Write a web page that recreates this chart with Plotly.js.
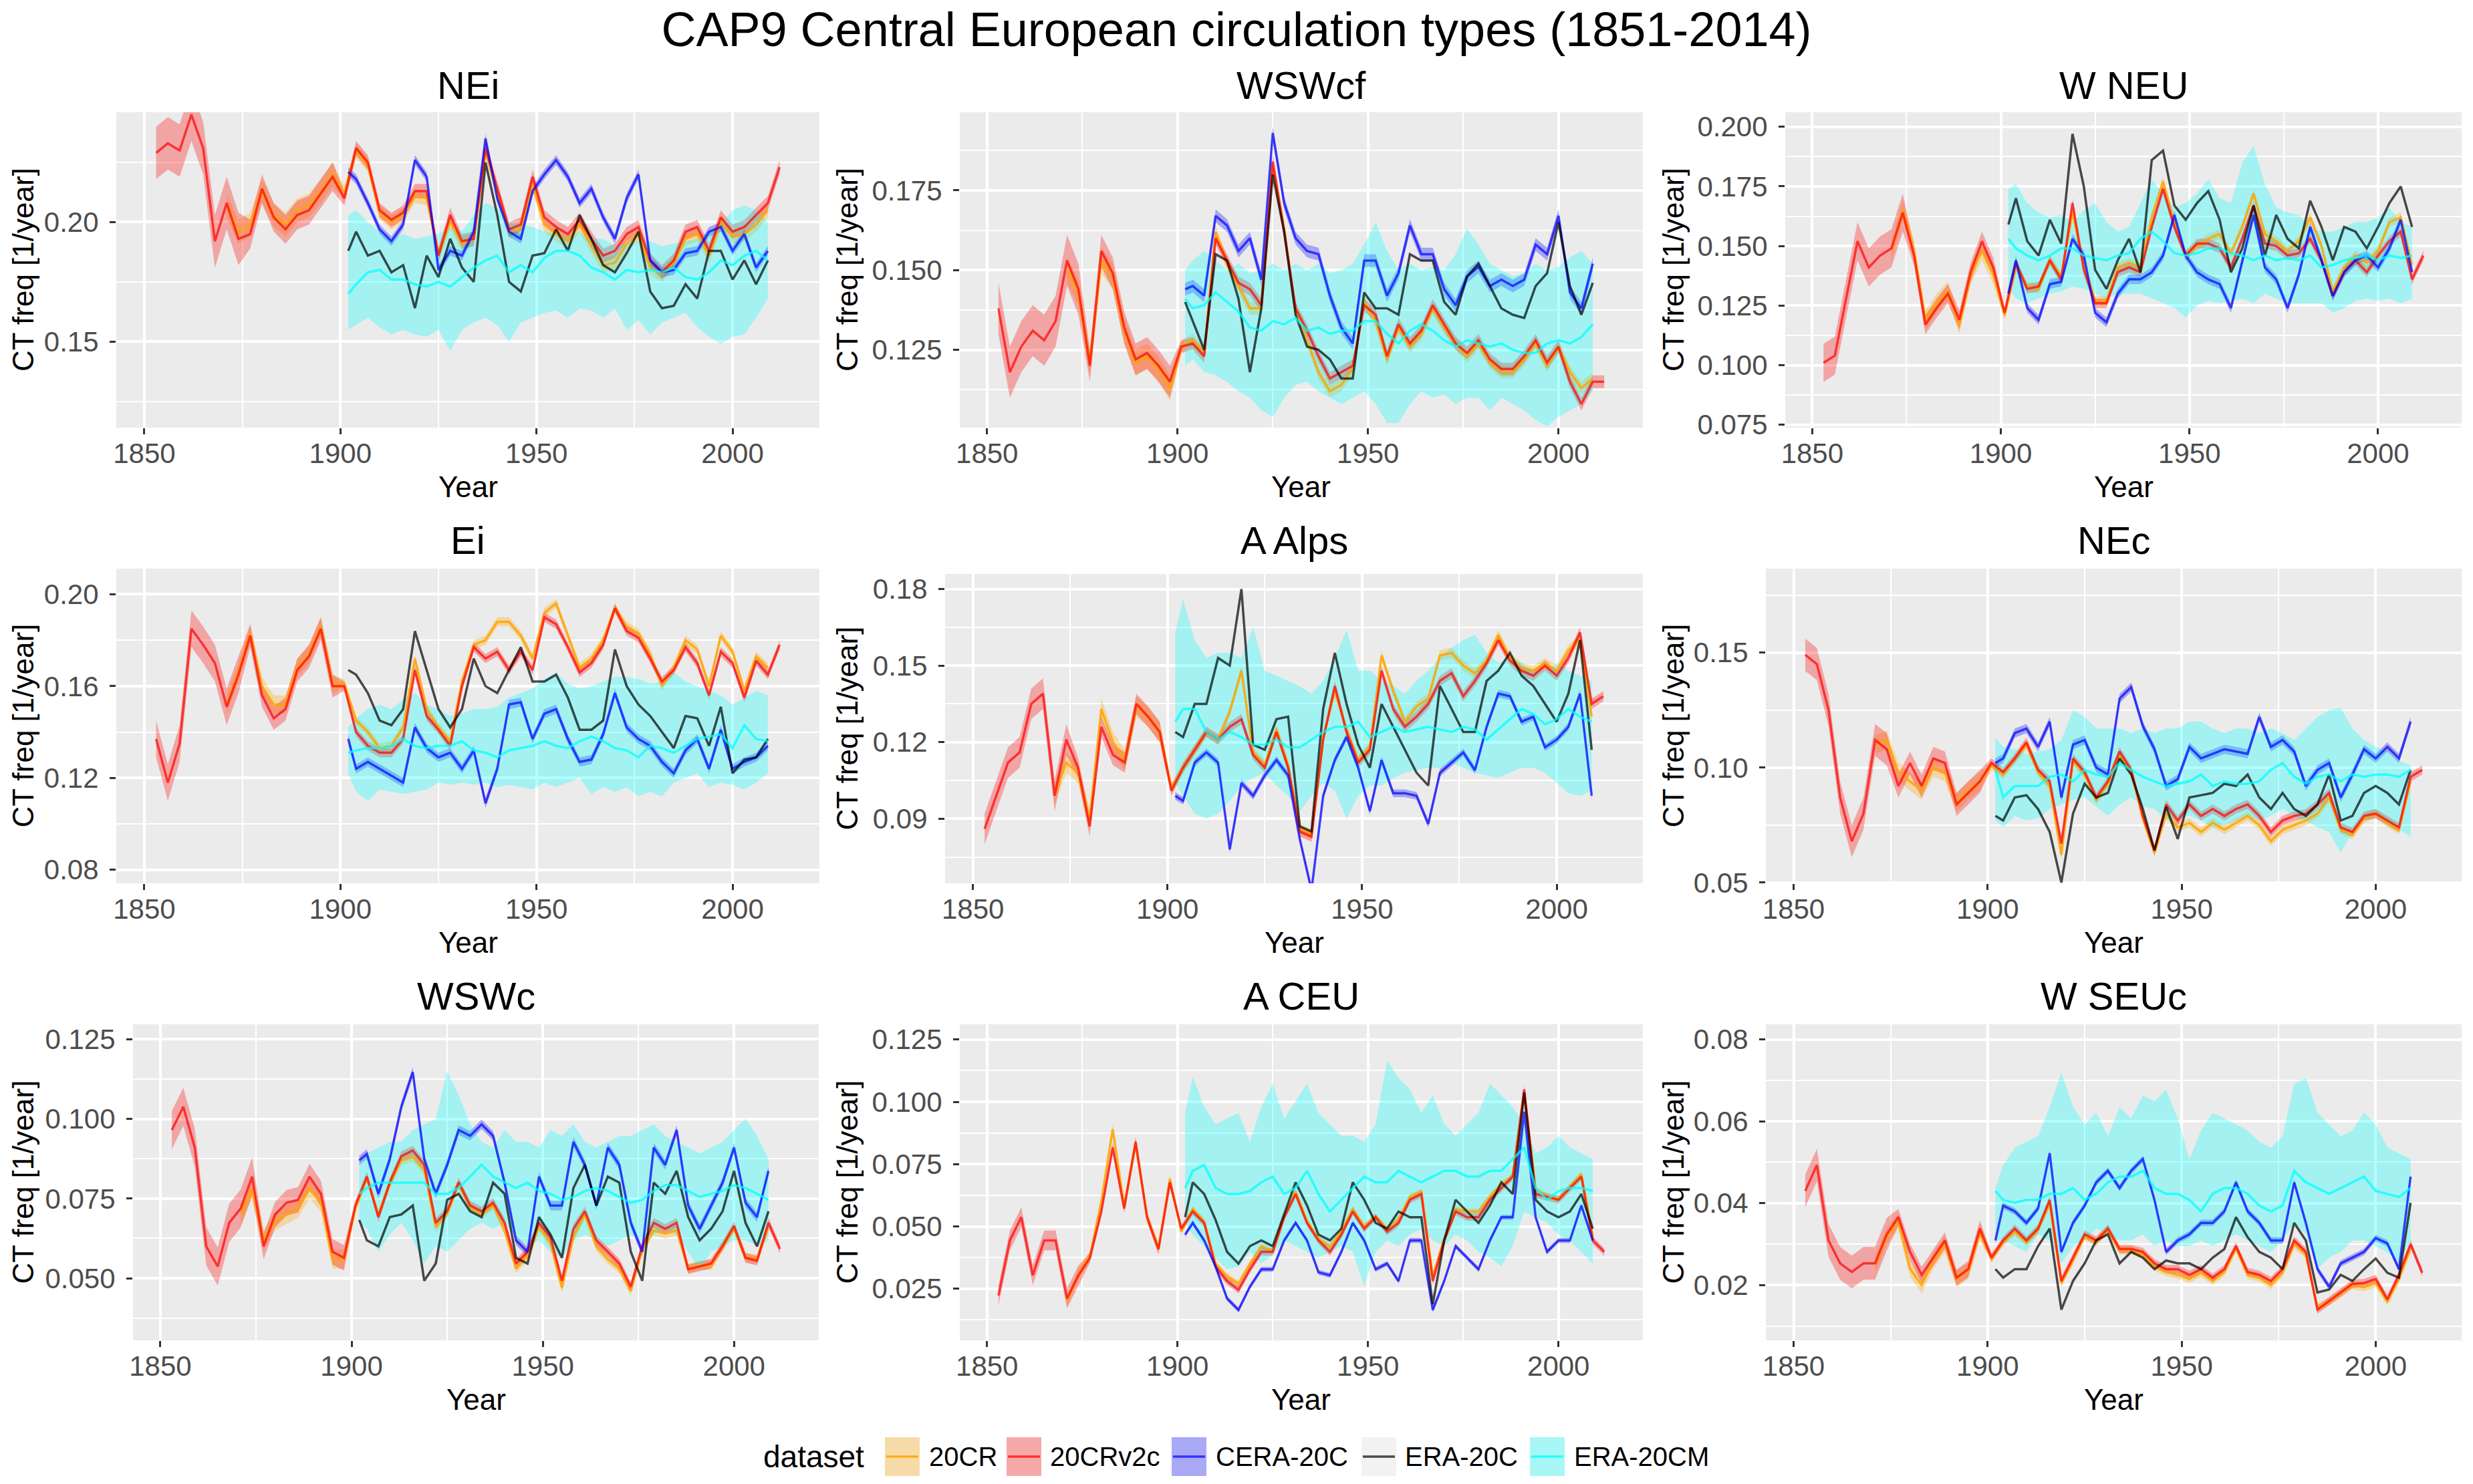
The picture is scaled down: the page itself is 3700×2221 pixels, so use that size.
<!DOCTYPE html>
<html>
<head>
<meta charset="utf-8">
<script src="https://cdn.plot.ly/plotly-3.0.1.min.js"></script>
<style>
html,body{margin:0;padding:0;background:#ffffff;}
#chart{width:3700px;height:2221px;}
</style>
</head>
<body>
<div id="chart"></div>
<script>
function seq(a, b, s) { const r = []; for (let v = a; v <= b + 1e-9; v += s) r.push(v); return r; }

// ---------- year grids ----------
const yearsV2c = seq(1853, 2012, 3);                 // 20CRv2c
const years20CR = seq(1871, 2009, 3);                // 20CR
const years20C = [1902].concat(seq(1904, 2009, 3));  // CERA-20C, ERA-20C, ERA-20CM

const datasets = ["20CR", "20CRv2c", "CERA-20C", "ERA-20C", "ERA-20CM"];
const panelTitles = ["NEi", "WSWcf", "W NEU", "Ei", "A Alps", "NEc", "WSWc", "A CEU", "W SEUc"];
const xTickVals = [1850, 1900, 1950, 2000];

// ---------- NEi ----------
const NEi_v2c = [.229,.233,.230,.245,.231,.192,.208,.193,.195,.214,.202,.197,.203,.205,.212,.219,.210,.231,.225,.205,.201,.204,.213,.213,.186,.203,.192,.193,.231,.214,.197,.199,.219,.202,.198,.195,.201,.193,.186,.188,.195,.198,.184,.179,.184,.196,.198,.188,.202,.196,.198,.203,.208,.223];
const NEi_cr = [.207,.196,.199,.213,.203,.199,.205,.207,.213,.220,.212,.230,.224,.204,.200,.203,.211,.210,.187,.200,.191,.193,.230,.212,.196,.197,.216,.199,.195,.192,.199,.190,.182,.183,.191,.195,.181,.178,.183,.193,.195,.186,.200,.194,.195,.199,.205];
const NEi_cera = [.221,.218,.208,.197,.192,.199,.226,.219,.180,.188,.186,.196,.235,.210,.196,.193,.213,.220,.226,.219,.208,.214,.202,.193,.210,.220,.184,.179,.180,.187,.188,.196,.198,.188,.195,.181,.188];
const NEi_era = [.188,.196,.186,.188,.179,.182,.164,.186,.177,.193,.181,.175,.225,.203,.175,.171,.186,.187,.197,.188,.203,.193,.182,.179,.187,.196,.171,.164,.165,.174,.168,.188,.188,.176,.184,.174,.184];
const NEi_cm = [.170,.174,.179,.180,.176,.176,.174,.173,.175,.173,.177,.181,.184,.186,.179,.182,.179,.185,.188,.188,.186,.181,.179,.176,.180,.179,.180,.179,.181,.177,.176,.179,.184,.182,.186,.188,.184];
const NEi_cmHi = [.203,.205,.200,.196,.193,.195,.193,.194,.195,.198,.196,.203,.208,.206,.200,.199,.198,.196,.195,.194,.196,.193,.193,.190,.191,.192,.192,.190,.191,.192,.193,.195,.199,.205,.207,.205,.200];
const NEi_cmLo = [.155,.157,.160,.156,.153,.155,.153,.152,.155,.146,.155,.158,.160,.157,.150,.158,.160,.162,.163,.160,.164,.163,.160,.164,.155,.159,.153,.158,.160,.162,.156,.152,.149,.152,.153,.160,.168];

// ---------- WSWcf ----------
const WSWcf_v2c = [.138,.118,.126,.131,.128,.134,.153,.144,.120,.156,.149,.132,.122,.124,.120,.115,.126,.127,.123,.160,.153,.146,.144,.139,.184,.162,.138,.131,.123,.116,.118,.120,.139,.136,.123,.133,.127,.131,.139,.133,.127,.124,.128,.122,.119,.119,.123,.128,.121,.126,.115,.108,.115,.115];
const WSWcf_cr = [.150,.143,.121,.153,.148,.131,.121,.123,.119,.113,.126,.128,.124,.162,.152,.145,.138,.138,.183,.163,.137,.128,.118,.112,.114,.119,.140,.134,.122,.132,.126,.130,.138,.132,.127,.123,.127,.121,.118,.118,.122,.127,.120,.126,.118,.113,.116];
const WSWcf_cera = [.144,.145,.142,.167,.164,.156,.160,.147,.193,.171,.160,.156,.155,.142,.132,.127,.153,.153,.142,.149,.164,.155,.155,.144,.139,.148,.151,.145,.147,.145,.147,.158,.155,.167,.143,.138,.152];
const WSWcf_era = [.140,.134,.125,.155,.153,.141,.118,.138,.180,.162,.136,.126,.125,.122,.116,.116,.143,.138,.138,.136,.155,.153,.153,.140,.136,.148,.152,.145,.138,.136,.135,.145,.149,.165,.145,.136,.146];
const WSWcf_cm = [.141,.138,.139,.143,.140,.137,.132,.131,.134,.133,.135,.131,.132,.130,.131,.131,.134,.134,.130,.127,.131,.133,.131,.128,.126,.128,.127,.126,.127,.125,.124,.124,.127,.128,.127,.129,.133];
const WSWcf_cmHi = [.150,.153,.156,.153,.150,.152,.149,.150,.152,.150,.152,.150,.152,.149,.150,.152,.158,.165,.156,.150,.152,.150,.151,.150,.155,.163,.158,.152,.150,.148,.149,.152,.150,.151,.154,.156,.152];
const WSWcf_cmLo = [.120,.122,.118,.117,.115,.112,.110,.106,.104,.110,.114,.115,.112,.110,.108,.110,.112,.108,.102,.102,.108,.112,.110,.111,.108,.110,.110,.106,.110,.108,.106,.103,.101,.104,.106,.108,.112];

// ---------- W NEU ----------
const WNEU_v2c = [.101,.104,.128,.152,.141,.146,.149,.164,.146,.117,.124,.130,.119,.139,.152,.141,.122,.143,.132,.133,.144,.136,.168,.140,.126,.126,.139,.141,.139,.158,.174,.158,.146,.151,.151,.149,.141,.153,.167,.151,.150,.146,.147,.153,.144,.129,.139,.144,.139,.146,.152,.156,.136,.146];
const WNEU_cr = [.148,.165,.148,.119,.126,.131,.117,.138,.148,.138,.121,.141,.133,.132,.144,.137,.164,.142,.127,.127,.141,.143,.141,.162,.177,.160,.146,.150,.153,.155,.147,.158,.172,.155,.152,.148,.152,.162,.150,.131,.141,.146,.143,.148,.160,.162,.142];
const WNEU_cera = [.130,.144,.124,.119,.134,.135,.153,.146,.122,.118,.130,.136,.136,.139,.146,.163,.146,.139,.136,.134,.124,.144,.163,.141,.136,.124,.138,.158,.144,.129,.139,.144,.146,.141,.149,.161,.139];
const WNEU_era = [.159,.170,.152,.146,.161,.151,.197,.175,.140,.132,.144,.153,.139,.186,.190,.167,.161,.168,.173,.161,.139,.149,.167,.146,.163,.153,.149,.169,.158,.144,.158,.156,.149,.158,.168,.175,.158];
const WNEU_cm = [.153,.149,.146,.144,.146,.149,.149,.146,.145,.144,.146,.147,.153,.156,.152,.147,.146,.147,.149,.149,.147,.146,.144,.146,.144,.145,.144,.146,.141,.142,.144,.145,.146,.144,.146,.145,.146];
const WNEU_cmHi = [.174,.176,.168,.164,.162,.163,.160,.165,.168,.160,.156,.158,.168,.178,.172,.166,.168,.172,.178,.170,.168,.185,.192,.176,.166,.164,.163,.158,.156,.156,.158,.160,.160,.162,.166,.160,.158];
const WNEU_cmLo = [.133,.128,.126,.128,.130,.131,.133,.132,.130,.128,.130,.130,.130,.128,.126,.124,.120,.125,.127,.126,.127,.128,.126,.130,.128,.126,.126,.126,.126,.122,.124,.127,.128,.127,.128,.126,.128];

// ---------- Ei ----------
const Ei_v2c = [.137,.118,.135,.185,.178,.170,.151,.165,.182,.156,.146,.150,.167,.173,.185,.160,.160,.140,.134,.131,.131,.137,.167,.147,.141,.134,.160,.177,.172,.175,.167,.175,.167,.190,.187,.177,.166,.170,.178,.194,.184,.181,.172,.162,.167,.177,.170,.156,.175,.170,.155,.171,.165,.178];
const Ei_cr = [.152,.166,.183,.160,.152,.152,.168,.174,.186,.161,.161,.145,.140,.133,.134,.142,.172,.150,.142,.136,.162,.178,.180,.188,.188,.182,.172,.192,.196,.182,.168,.172,.180,.194,.186,.183,.174,.160,.168,.180,.176,.160,.182,.175,.158,.173,.168];
const Ei_cera = [.137,.124,.127,.124,.121,.118,.142,.133,.129,.131,.124,.132,.109,.124,.152,.153,.137,.148,.150,.137,.127,.128,.139,.157,.142,.137,.134,.127,.122,.132,.137,.124,.141,.124,.127,.129,.134];
const Ei_era = [.167,.165,.157,.145,.143,.150,.184,.167,.150,.142,.150,.172,.160,.157,.167,.177,.162,.162,.165,.155,.141,.141,.145,.176,.160,.152,.147,.140,.133,.147,.146,.134,.151,.122,.128,.129,.137];
const Ei_cm = [.131,.132,.133,.133,.134,.137,.134,.133,.134,.134,.136,.132,.131,.129,.132,.133,.134,.136,.134,.133,.136,.138,.136,.133,.132,.129,.134,.133,.131,.134,.137,.138,.139,.133,.143,.137,.136];
const Ei_cmHi = [.142,.146,.150,.152,.150,.154,.157,.152,.150,.147,.148,.150,.150,.151,.155,.157,.159,.163,.166,.161,.159,.160,.162,.164,.164,.163,.161,.162,.166,.162,.160,.158,.156,.152,.155,.158,.156];
const Ei_cmLo = [.122,.114,.110,.115,.114,.113,.114,.115,.118,.117,.118,.117,.118,.116,.117,.116,.115,.118,.116,.118,.120,.113,.116,.114,.116,.112,.114,.112,.118,.120,.122,.116,.118,.117,.115,.118,.122];

// ---------- A Alps ----------
const AAlps_v2c = [.086,.099,.112,.116,.135,.139,.099,.121,.110,.087,.126,.115,.112,.135,.130,.124,.101,.110,.117,.124,.121,.126,.129,.115,.110,.124,.110,.085,.083,.121,.142,.124,.112,.117,.148,.133,.126,.130,.135,.144,.147,.138,.144,.151,.160,.152,.148,.146,.150,.146,.153,.163,.135,.138];
const AAlps_cr = [.100,.112,.108,.090,.133,.120,.113,.134,.130,.124,.102,.110,.117,.124,.121,.132,.148,.116,.111,.125,.111,.086,.084,.122,.140,.125,.113,.118,.154,.140,.128,.134,.137,.154,.155,.150,.147,.152,.162,.153,.149,.148,.151,.148,.156,.160,.130];
const AAlps_cera = [.099,.097,.112,.116,.112,.078,.104,.099,.107,.113,.107,.082,.062,.099,.113,.122,.110,.093,.113,.100,.100,.099,.088,.108,.112,.116,.109,.126,.139,.138,.128,.130,.118,.121,.126,.139,.099];
const AAlps_era = [.124,.122,.135,.135,.153,.150,.180,.119,.117,.129,.130,.087,.085,.133,.155,.135,.119,.110,.135,.126,.117,.108,.103,.142,.133,.124,.124,.144,.148,.155,.146,.142,.135,.128,.139,.160,.117];
const AAlps_cm = [.128,.133,.133,.124,.121,.124,.122,.119,.119,.121,.118,.118,.121,.124,.126,.126,.128,.122,.124,.126,.124,.125,.126,.125,.124,.126,.125,.121,.125,.129,.133,.131,.127,.129,.133,.130,.128];
const AAlps_cmHi = [.163,.176,.160,.153,.155,.155,.153,.165,.148,.146,.144,.142,.139,.144,.153,.164,.148,.148,.144,.142,.139,.144,.148,.153,.157,.160,.162,.155,.151,.153,.151,.148,.148,.151,.148,.146,.144];
const AAlps_cmLo = [.104,.099,.092,.090,.092,.097,.103,.106,.108,.103,.099,.093,.099,.104,.101,.090,.099,.103,.103,.106,.108,.109,.110,.110,.112,.110,.108,.107,.106,.108,.110,.110,.108,.104,.100,.099,.101];

// ---------- NEc ----------
const NEc_v2c = [.149,.145,.125,.087,.068,.080,.112,.108,.092,.102,.092,.104,.102,.084,.089,.094,.102,.098,.104,.111,.099,.094,.067,.104,.098,.087,.094,.107,.099,.079,.064,.084,.077,.084,.079,.082,.079,.082,.084,.079,.072,.077,.079,.080,.084,.089,.074,.072,.079,.080,.077,.074,.096,.099];
const NEc_cr = [.110,.112,.098,.094,.090,.100,.098,.085,.090,.094,.101,.097,.104,.110,.098,.092,.062,.103,.097,.086,.093,.105,.098,.078,.063,.080,.074,.076,.072,.076,.073,.076,.079,.075,.068,.073,.075,.077,.080,.087,.073,.071,.078,.080,.076,.073,.094];
const NEc_cera = [.102,.104,.115,.117,.109,.120,.087,.110,.112,.100,.097,.130,.135,.118,.108,.092,.095,.109,.104,.106,.108,.107,.106,.122,.109,.112,.107,.092,.099,.102,.087,.097,.108,.104,.109,.104,.120];
const NEc_era = [.079,.077,.087,.088,.082,.072,.050,.080,.093,.087,.089,.104,.097,.082,.064,.083,.069,.087,.088,.089,.093,.092,.097,.087,.082,.089,.082,.079,.084,.097,.077,.079,.089,.092,.089,.084,.099];
const NEc_cm = [.099,.087,.092,.092,.092,.096,.097,.094,.099,.097,.096,.102,.099,.096,.094,.092,.093,.094,.097,.092,.094,.093,.093,.094,.099,.102,.096,.093,.096,.097,.094,.097,.096,.097,.097,.096,.099];
const NEc_cmHi = [.113,.109,.108,.106,.107,.108,.112,.125,.122,.117,.117,.117,.115,.117,.115,.117,.117,.120,.120,.117,.115,.117,.117,.115,.117,.115,.112,.117,.122,.125,.126,.117,.112,.109,.107,.103,.101];
const NEc_cmLo = [.077,.074,.079,.077,.078,.082,.084,.086,.087,.083,.079,.084,.087,.083,.082,.077,.078,.079,.077,.074,.075,.077,.079,.077,.079,.082,.079,.077,.074,.072,.063,.072,.077,.079,.075,.073,.070];

// ---------- WSWc ----------
const WSWc_v2c = [.0965,.1038,.0910,.0600,.0537,.0674,.0719,.0819,.0600,.0700,.0737,.0746,.0819,.0765,.0583,.0564,.0728,.0819,.0692,.0801,.0883,.0901,.0856,.0674,.0710,.0801,.0728,.0710,.0737,.0674,.0546,.0583,.0674,.0628,.0492,.0655,.0710,.0619,.0583,.0546,.0473,.0601,.0674,.0655,.0674,.0528,.0537,.0546,.0601,.0664,.0564,.0555,.0674,.0592];
const WSWc_cr = [.0700,.0780,.0620,.0680,.0700,.0720,.0780,.0740,.0560,.0560,.0720,.0815,.0700,.0795,.0870,.0880,.0840,.0660,.0705,.0795,.0725,.0700,.0730,.0650,.0530,.0570,.0660,.0610,.0470,.0630,.0700,.0600,.0560,.0530,.0460,.0590,.0650,.0640,.0650,.0530,.0540,.0540,.0600,.0655,.0565,.0560,.0660];
const WSWc_cera = [.0870,.0890,.0765,.0874,.1038,.1147,.0874,.0765,.0856,.0965,.0947,.0983,.0947,.0800,.0619,.0583,.0819,.0728,.0728,.0928,.0856,.0728,.0910,.0856,.0674,.0583,.0910,.0856,.0965,.0728,.0655,.0728,.0800,.0910,.0737,.0692,.0837];
const WSWc_era = [.0683,.0619,.0600,.0692,.0700,.0728,.0492,.0546,.0746,.0765,.0710,.0692,.0800,.0765,.0564,.0546,.0692,.0637,.0564,.0783,.0856,.0728,.0819,.0800,.0583,.0492,.0800,.0765,.0837,.0692,.0619,.0655,.0710,.0837,.0674,.0600,.0710];
const WSWc_cm = [.0765,.0783,.0800,.0800,.0800,.0800,.0800,.0765,.0765,.0783,.0819,.0856,.0819,.0800,.0783,.0800,.0774,.0765,.0746,.0755,.0774,.0783,.0774,.0755,.0737,.0746,.0774,.0792,.0792,.0774,.0755,.0765,.0774,.0792,.0783,.0765,.0746];
const WSWc_cmHi = [.0856,.0892,.0910,.0928,.0928,.0965,.0983,.1001,.1150,.1074,.0983,.0928,.0910,.0965,.0928,.0928,.0910,.0965,.0947,.0983,.0928,.0910,.0928,.0947,.0947,.0965,.0983,.0947,.0928,.0910,.0892,.0910,.0928,.0965,.1001,.0947,.0874];
const WSWc_cmLo = [.0674,.0655,.0583,.0637,.0674,.0619,.0546,.0601,.0583,.0619,.0655,.0674,.0655,.0674,.0628,.0601,.0619,.0583,.0564,.0619,.0637,.0619,.0601,.0619,.0637,.0619,.0637,.0655,.0637,.0583,.0528,.0583,.0601,.0619,.0619,.0601,.0619];

// ---------- A CEU ----------
const ACEU_v2c = [.0223,.0444,.0537,.0304,.0444,.0444,.0211,.0304,.0374,.0560,.0817,.0572,.0840,.0537,.0409,.0677,.0491,.0560,.0514,.0339,.0281,.0246,.0328,.0398,.0398,.0537,.0630,.0514,.0444,.0398,.0467,.0560,.0491,.0537,.0479,.0514,.0607,.0630,.0281,.0444,.0560,.0537,.0537,.0607,.0654,.0700,.1050,.0630,.0619,.0607,.0654,.0700,.0444,.0398];
const ACEU_cr = [.0200,.0310,.0380,.0600,.0890,.0580,.0830,.0540,.0410,.0690,.0480,.0570,.0520,.0350,.0300,.0270,.0350,.0420,.0400,.0540,.0640,.0520,.0450,.0420,.0480,.0570,.0500,.0540,.0490,.0530,.0620,.0640,.0300,.0450,.0570,.0560,.0560,.0620,.0670,.0700,.1030,.0650,.0620,.0610,.0660,.0710,.0460];
const ACEU_cera = [.0467,.0514,.0444,.0339,.0211,.0165,.0258,.0328,.0328,.0444,.0514,.0444,.0316,.0304,.0398,.0514,.0444,.0328,.0351,.0281,.0444,.0444,.0165,.0281,.0421,.0374,.0328,.0444,.0537,.0537,.0960,.0537,.0398,.0444,.0444,.0584,.0444];
const ACEU_era = [.0537,.0677,.0630,.0526,.0398,.0351,.0421,.0444,.0421,.0549,.0677,.0584,.0467,.0444,.0491,.0677,.0607,.0514,.0491,.0560,.0537,.0537,.0188,.0444,.0607,.0560,.0514,.0584,.0677,.0630,.1038,.0607,.0560,.0537,.0560,.0630,.0491];
const ACEU_cm = [.0654,.0723,.0747,.0654,.0630,.0630,.0642,.0677,.0700,.0630,.0654,.0723,.0630,.0560,.0607,.0654,.0700,.0677,.0677,.0723,.0700,.0677,.0700,.0723,.0723,.0700,.0700,.0723,.0723,.0770,.0817,.0654,.0607,.0642,.0654,.0654,.0642];
const ACEU_cmHi = [.0956,.1100,.0980,.0910,.0933,.0956,.0840,.0980,.1073,.0933,.1003,.1073,.0956,.0910,.0863,.0863,.0840,.0910,.1166,.1096,.1050,.0956,.1026,.0910,.0863,.0910,.0956,.1073,.1026,.0980,.0910,.0793,.0817,.0863,.0817,.0793,.0770];
const ACEU_cmLo = [.0514,.0467,.0421,.0374,.0328,.0339,.0398,.0351,.0386,.0444,.0421,.0398,.0374,.0398,.0421,.0398,.0260,.0398,.0444,.0421,.0467,.0491,.0444,.0421,.0467,.0444,.0398,.0374,.0340,.0421,.0560,.0537,.0514,.0467,.0444,.0398,.0351];

// ---------- W SEUc ----------
const WSEUc_v2c = [.0430,.0493,.0309,.0253,.0232,.0253,.0253,.0324,.0366,.0281,.0225,.0267,.0309,.0218,.0239,.0338,.0267,.0309,.0338,.0309,.0338,.0408,.0210,.0267,.0324,.0309,.0338,.0288,.0288,.0281,.0253,.0239,.0239,.0225,.0239,.0218,.0239,.0295,.0232,.0225,.0210,.0239,.0309,.0281,.0140,.0161,.0182,.0203,.0205,.0215,.0165,.0225,.0300,.0230];
const WSEUc_cr = [.0250,.0320,.0355,.0240,.0200,.0260,.0300,.0215,.0235,.0330,.0265,.0305,.0330,.0305,.0335,.0400,.0205,.0260,.0320,.0305,.0335,.0285,.0285,.0275,.0245,.0232,.0225,.0215,.0230,.0210,.0232,.0290,.0225,.0218,.0200,.0230,.0300,.0275,.0145,.0160,.0180,.0200,.0195,.0205,.0160,.0215,.0290];
const WSEUc_cera = [.0309,.0394,.0380,.0352,.0387,.0522,.0281,.0352,.0394,.0451,.0479,.0437,.0479,.0508,.0408,.0281,.0309,.0324,.0352,.0352,.0380,.0451,.0380,.0352,.0309,.0309,.0451,.0352,.0239,.0196,.0253,.0267,.0281,.0315,.0302,.0239,.0465];
const WSEUc_era = [.0239,.0218,.0239,.0239,.0295,.0338,.0140,.0210,.0253,.0309,.0324,.0253,.0281,.0267,.0239,.0260,.0253,.0253,.0239,.0267,.0288,.0366,.0317,.0281,.0267,.0239,.0352,.0309,.0182,.0189,.0225,.0210,.0239,.0265,.0230,.0218,.0401];
const WSEUc_cm = [.0430,.0408,.0401,.0408,.0408,.0423,.0423,.0437,.0408,.0423,.0451,.0465,.0465,.0479,.0437,.0423,.0423,.0408,.0380,.0423,.0437,.0437,.0423,.0394,.0380,.0394,.0479,.0451,.0437,.0423,.0437,.0451,.0465,.0430,.0423,.0415,.0437];
const WSEUc_cmHi = [.0437,.0493,.0536,.0550,.0564,.0635,.0720,.0635,.0592,.0621,.0564,.0635,.0607,.0663,.0649,.0677,.0607,.0508,.0578,.0621,.0607,.0592,.0578,.0550,.0536,.0564,.0691,.0706,.0621,.0592,.0564,.0578,.0621,.0592,.0536,.0522,.0508];
const WSEUc_cmLo = [.0309,.0309,.0295,.0281,.0324,.0309,.0253,.0295,.0309,.0338,.0324,.0309,.0309,.0324,.0295,.0309,.0295,.0295,.0309,.0295,.0309,.0324,.0309,.0295,.0281,.0309,.0352,.0324,.0239,.0267,.0281,.0309,.0309,.0295,.0281,.0253,.0309];

// ---------- ensemble half-widths (per panel) ----------
// 20CRv2c: [before 1875, 1875-1900, after 1900]; 20CR: [before 1901, after]; CERA-20C: single value
const spreadV2c = [[.011,.006,.003],[.008,.005,.002],[.008,.004,.002],[.008,.005,.002],[.006,.004,.002],[.007,.005,.002],[.006,.004,.0015],[.004,.002,.0015],[.004,.002,.001]];
const spread20CR = [[.005,.003],[.004,.002],[.004,.002],[.004,.002],[.004,.002],[.004,.002],[.003,.0015],[.002,.0012],[.002,.001]];
const spreadCERA = [.002,.002,.002,.002,.0015,.002,.0015,.001,.0008];

// ---------- per-panel axis settings ----------
const yRanges = [[0.114,0.246],[0.1006,0.1995],[0.0738,0.2061],[0.0741,0.2112],[0.0647,0.1859],[0.0497,0.1865],[0.0305,0.1297],[0.0043,0.1311],[0.0065,0.0837]];
const yDticks = [0.05,0.025,0.025,0.04,0.03,0.05,0.025,0.025,0.02];
const yFormats = ['.2f','.3f','.3f','.2f','.2f','.2f','.3f','.3f','.2f'];

const seriesTable = [
  [NEi_cr, NEi_v2c, NEi_cera, NEi_era, NEi_cm, NEi_cmLo, NEi_cmHi],
  [WSWcf_cr, WSWcf_v2c, WSWcf_cera, WSWcf_era, WSWcf_cm, WSWcf_cmLo, WSWcf_cmHi],
  [WNEU_cr, WNEU_v2c, WNEU_cera, WNEU_era, WNEU_cm, WNEU_cmLo, WNEU_cmHi],
  [Ei_cr, Ei_v2c, Ei_cera, Ei_era, Ei_cm, Ei_cmLo, Ei_cmHi],
  [AAlps_cr, AAlps_v2c, AAlps_cera, AAlps_era, AAlps_cm, AAlps_cmLo, AAlps_cmHi],
  [NEc_cr, NEc_v2c, NEc_cera, NEc_era, NEc_cm, NEc_cmLo, NEc_cmHi],
  [WSWc_cr, WSWc_v2c, WSWc_cera, WSWc_era, WSWc_cm, WSWc_cmLo, WSWc_cmHi],
  [ACEU_cr, ACEU_v2c, ACEU_cera, ACEU_era, ACEU_cm, ACEU_cmLo, ACEU_cmHi],
  [WSEUc_cr, WSEUc_v2c, WSEUc_cera, WSEUc_era, WSEUc_cm, WSEUc_cmLo, WSEUc_cmHi]
];

// ---------- layout geometry (pixels) ----------
const W = 3700, H = 2221;
const panelPx = [[174,1226],[1436,2458],[2671,3683],[174,1226],[1414,2458],[2642,3683],[199,1225],[1436,2458],[2642,3683]];
const panelPy = [[168,640],[168,640],[168,640],[851,1322],[859,1322],[851,1322],[1533,2006],[1533,2006],[1533,2006]];
const titleY = [128,128,128,809,809,809,1490,1490,1490];
const xTitleY = [729,729,729,1410,1410,1410,2094,2094,2094];
const yTitleX = [34,1267,2503,34,1267,2503,34,1267,2503];

const FONT = 'Liberation Sans, Arimo, Arial, Helvetica, sans-serif';
const lineCol = {"20CR":"rgba(255,165,0,0.85)","20CRv2c":"rgba(255,0,0,0.7)","CERA-20C":"rgba(0,0,255,0.7)","ERA-20C":"rgba(0,0,0,0.7)","ERA-20CM":"rgba(0,255,255,0.75)"};
const fillCol = {"20CR":"rgba(255,165,0,0.3)","20CRv2c":"rgba(255,0,0,0.3)","CERA-20C":"rgba(0,0,255,0.3)","ERA-20C":"rgba(0,0,0,0)","ERA-20CM":"rgba(0,255,255,0.3)"};
const LW = 3.5;

function ribbon(xs, lo, hi, name, ax) {
  const x = xs.concat(xs.slice().reverse());
  const y = hi.concat(lo.slice().reverse());
  return {type:'scatter', mode:'lines', x:x, y:y, fill:'toself', fillcolor:fillCol[name],
          line:{width:0, color:'rgba(0,0,0,0)'}, hoverinfo:'skip', showlegend:false, xaxis:'x'+ax, yaxis:'y'+ax};
}
function line(xs, ys, name, ax) {
  return {type:'scatter', mode:'lines', x:xs, y:ys, name:name, line:{color:lineCol[name], width:LW},
          showlegend:false, xaxis:'x'+ax, yaxis:'y'+ax};
}

const traces = [];
const layout = {
  width: W, height: H, margin:{l:0,r:0,t:0,b:0},
  paper_bgcolor:'#FFFFFF', plot_bgcolor:'#EBEBEB', showlegend:false,
  font:{family:FONT, color:'#000000'},
  title:{text:'CAP9 Central European circulation types (1851-2014)', font:{family:FONT, size:72, color:'#000000'},
         x:0.5, xref:'paper', xanchor:'center', y:1-44/H, yref:'container', yanchor:'middle'},
  annotations:[], shapes:[]
};

for (let k = 0; k < 9; k++) {
  const ax = k === 0 ? '' : String(k + 1);
  const [cr, v2c, cera, era, cm, cmLo, cmHi] = seriesTable[k];
  const sv = spreadV2c[k], sc = spread20CR[k], se = spreadCERA[k];
  const sV = y => (y < 1875 ? sv[0] : (y < 1901 ? sv[1] : sv[2]));
  const sC = y => (y < 1901 ? sc[0] : sc[1]);
  // ribbons (drawn first, dataset order)
  traces.push(ribbon(years20CR, cr.map((v,i)=>v - sC(years20CR[i])), cr.map((v,i)=>v + sC(years20CR[i])), '20CR', ax));
  traces.push(ribbon(yearsV2c, v2c.map((v,i)=>v - sV(yearsV2c[i])), v2c.map((v,i)=>v + sV(yearsV2c[i])), '20CRv2c', ax));
  traces.push(ribbon(years20C, cera.map(v=>v - se), cera.map(v=>v + se), 'CERA-20C', ax));
  traces.push(ribbon(years20C, cmLo, cmHi, 'ERA-20CM', ax));
  // lines
  traces.push(line(years20CR, cr, '20CR', ax));
  traces.push(line(yearsV2c, v2c, '20CRv2c', ax));
  traces.push(line(years20C, cera, 'CERA-20C', ax));
  traces.push(line(years20C, era, 'ERA-20C', ax));
  traces.push(line(years20C, cm, 'ERA-20CM', ax));

  const [px0, px1] = panelPx[k], [py0, py1] = panelPy[k];
  layout['xaxis' + ax] = {
    domain:[px0/W, px1/W], anchor:'y'+ax, range:[1842.85, 2022.15],
    tickmode:'array', tickvals:xTickVals, ticktext:xTickVals.map(String),
    ticks:'outside', ticklen:9, tickwidth:3, tickcolor:'#333333', ticklabelstandoff:-7,
    tickfont:{family:FONT, size:42, color:'#4D4D4D'},
    showgrid:true, gridcolor:'#FFFFFF', gridwidth:4, zeroline:false, showline:false,
    minor:{tickmode:'array', tickvals:[1875,1925,1975], showgrid:true, gridcolor:'#FFFFFF', gridwidth:2, ticks:''},
    fixedrange:true
  };
  const d = yDticks[k];
  layout['yaxis' + ax] = {
    domain:[1 - py1/H, 1 - py0/H], anchor:'x'+ax, range:yRanges[k],
    tickmode:'linear', tick0:0, dtick:d, tickformat:yFormats[k],
    ticks:'outside', ticklen:9, tickwidth:3, tickcolor:'#333333', ticklabelstandoff:8,
    tickfont:{family:FONT, size:42, color:'#4D4D4D'},
    showgrid:true, gridcolor:'#FFFFFF', gridwidth:4, zeroline:false, showline:false,
    minor:{tick0:d/2, dtick:d, showgrid:true, gridcolor:'#FFFFFF', gridwidth:2, ticks:''},
    fixedrange:true
  };
  const cx = (px0 + px1) / 2 / W;
  layout.annotations.push({text:panelTitles[k], xref:'paper', yref:'paper', x:cx, y:1 - titleY[k]/H,
    xanchor:'center', yanchor:'middle', showarrow:false, font:{family:FONT, size:58, color:'#000000'}});
  layout.annotations.push({text:'Year', xref:'paper', yref:'paper', x:cx, y:1 - xTitleY[k]/H,
    xanchor:'center', yanchor:'middle', showarrow:false, font:{family:FONT, size:44, color:'#000000'}});
  layout.annotations.push({text:'CT freq [1/year]', xref:'paper', yref:'paper', x:yTitleX[k]/W, y:1 - (py0+py1)/2/H,
    xanchor:'center', yanchor:'middle', textangle:-90, showarrow:false, font:{family:FONT, size:44, color:'#000000'}});
}

// ---------- legend (drawn as shapes + text) ----------
const legendKeys = [[1324,1376,1388],[1506,1558,1569],[1753,1805,1817],[2037,2089,2100],[2289,2341,2353]];
const legY0 = 2151, legY1 = 2209, legYc = 2180;
layout.annotations.push({text:'dataset', xref:'paper', yref:'paper', x:1140/W, y:1 - legYc/H, xanchor:'left', yanchor:'middle',
  showarrow:false, font:{family:FONT, size:46, color:'#000000'}});
datasets.forEach((name, i) => {
  const [k0, k1, lx] = legendKeys[i];
  layout.shapes.push({type:'rect', xref:'paper', yref:'paper', x0:k0/W, x1:k1/W, y0:1-legY1/H, y1:1-legY0/H,
    fillcolor:'#F2F2F2', line:{width:0}, layer:'above'});
  layout.shapes.push({type:'rect', xref:'paper', yref:'paper', x0:k0/W, x1:k1/W, y0:1-legY1/H, y1:1-legY0/H,
    fillcolor:fillCol[name], line:{width:0}, layer:'above'});
  layout.shapes.push({type:'line', xref:'paper', yref:'paper', x0:(k0+2)/W, x1:(k1-2)/W, y0:1-legYc/H, y1:1-legYc/H,
    line:{color:lineCol[name], width:LW}, layer:'above'});
  layout.annotations.push({text:name, xref:'paper', yref:'paper', x:lx/W, y:1 - legYc/H, xanchor:'left', yanchor:'middle',
    showarrow:false, font:{family:FONT, size:40, color:'#000000'}});
});

Plotly.newPlot('chart', traces, layout, {staticPlot:true, displayModeBar:false});
</script>
</body>
</html>
